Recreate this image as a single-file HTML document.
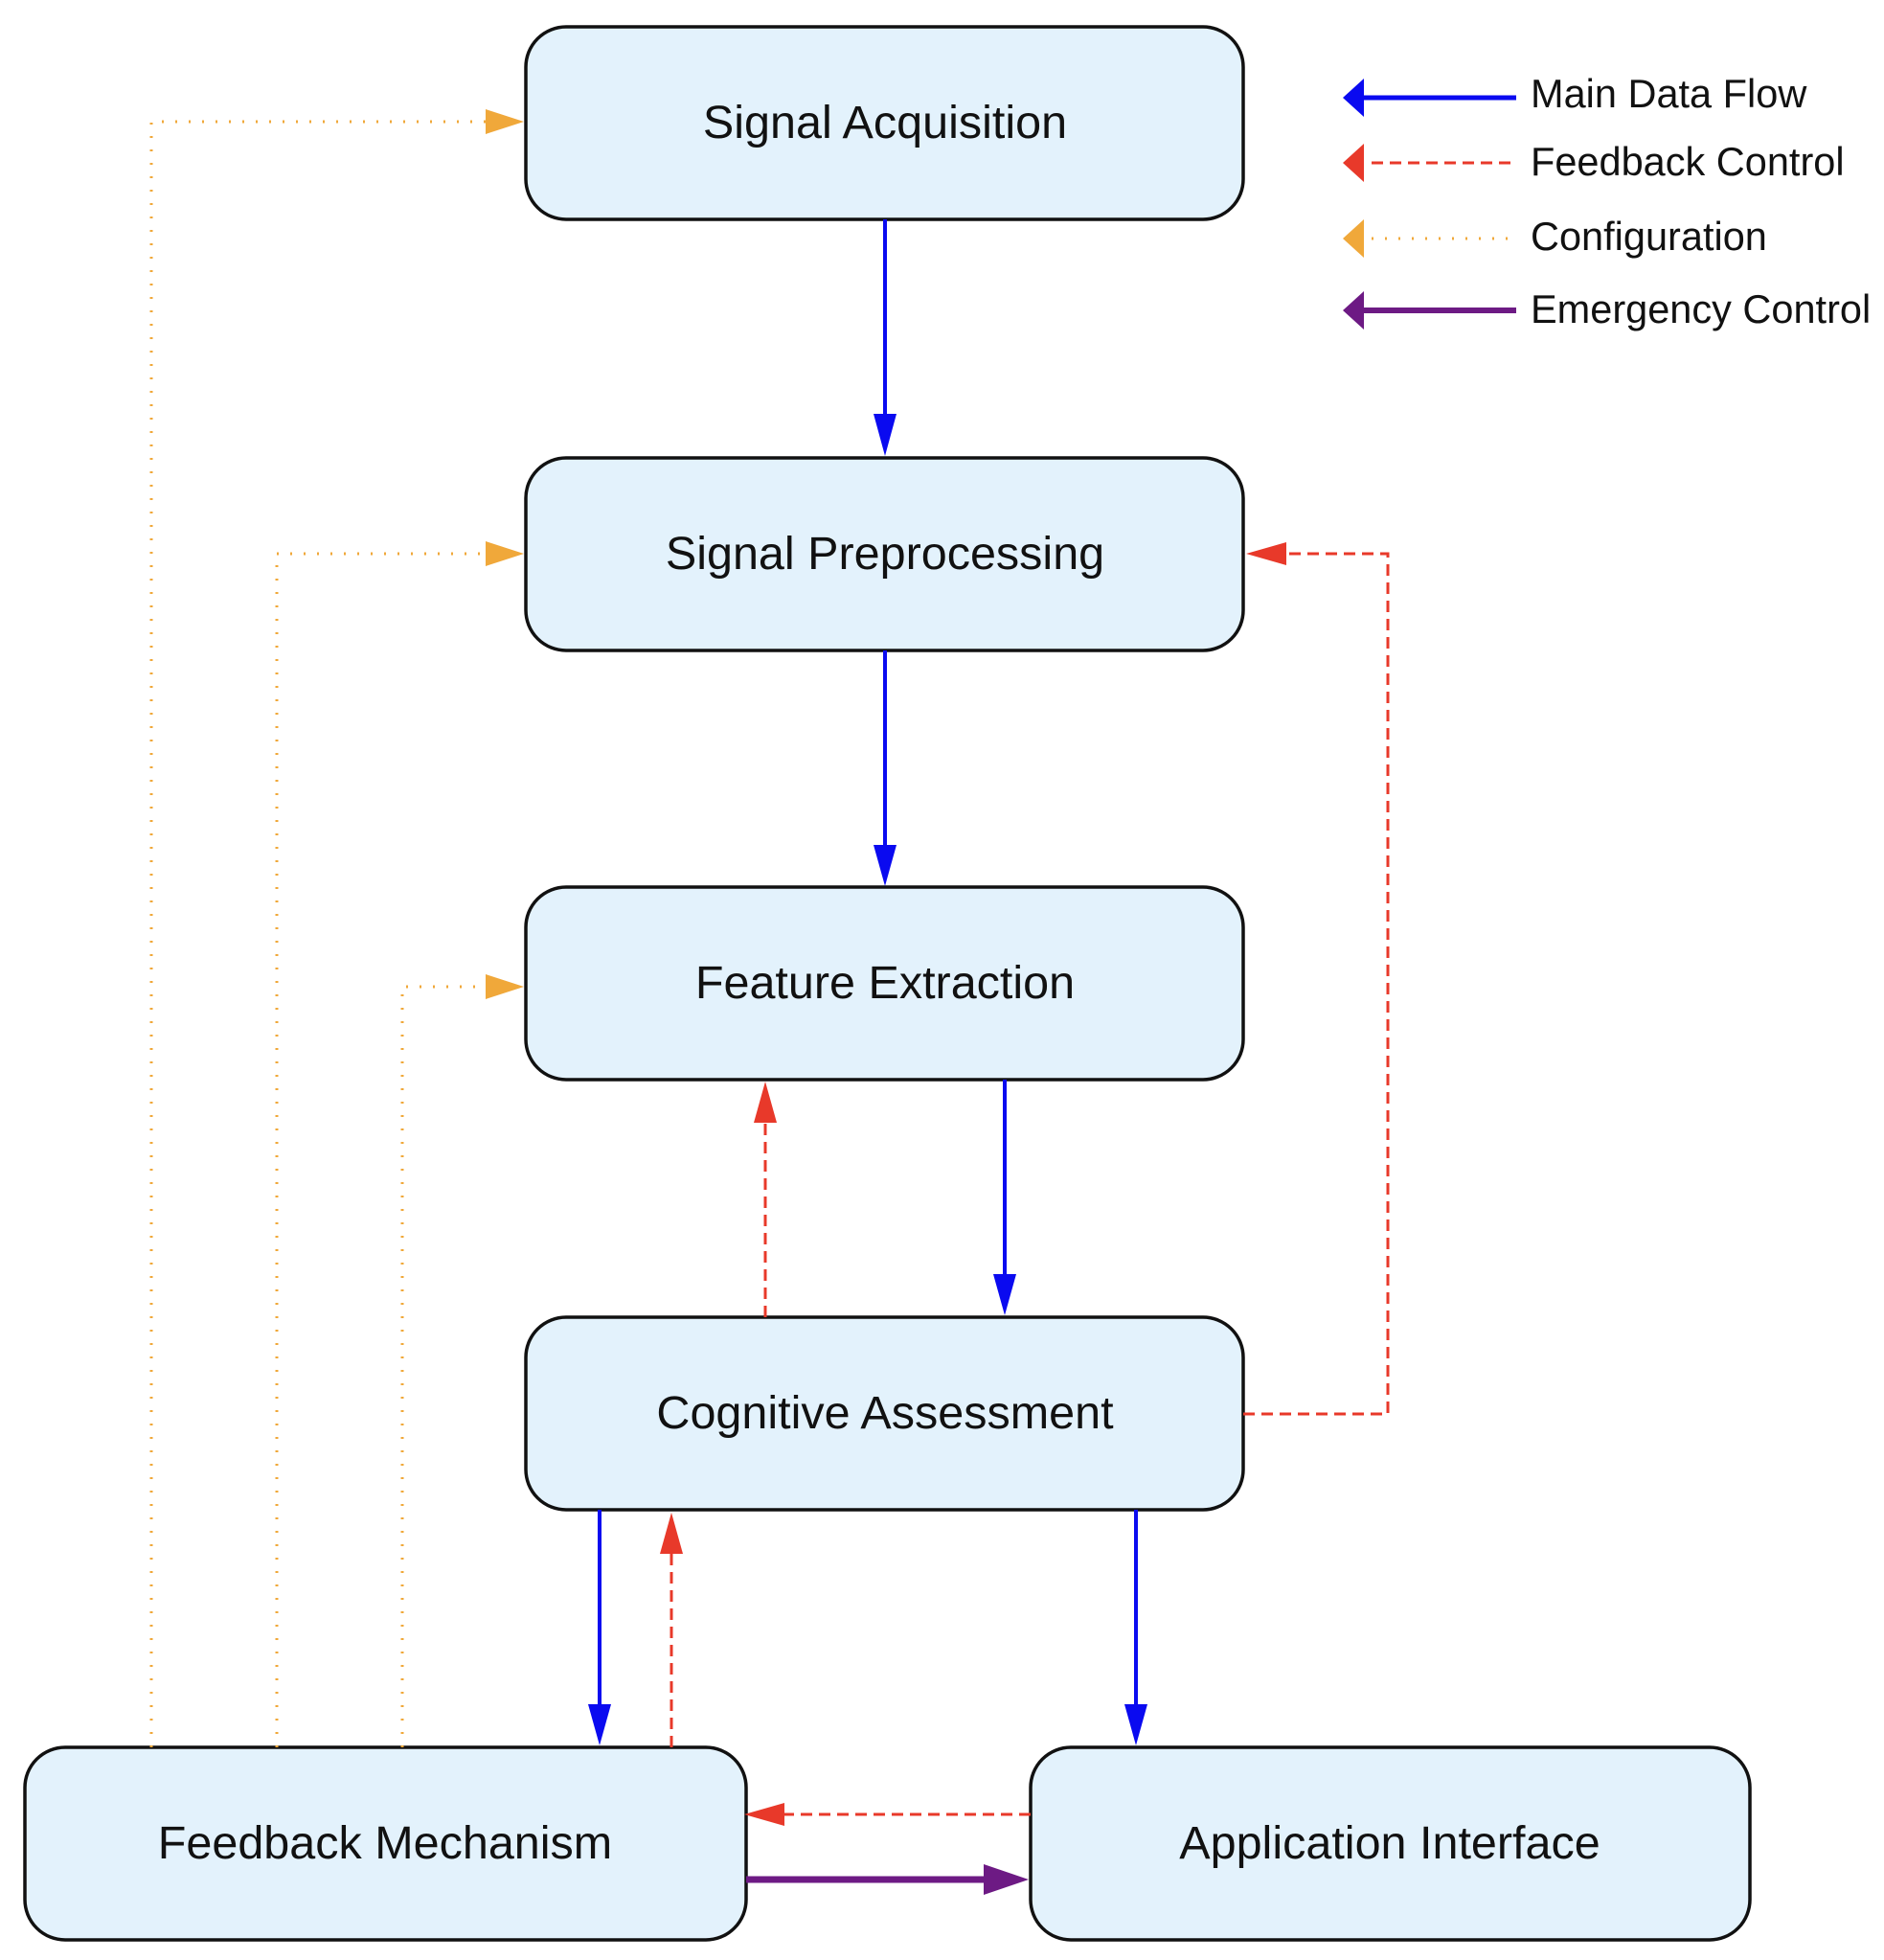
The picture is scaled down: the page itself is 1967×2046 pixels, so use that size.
<!DOCTYPE html>
<html><head><meta charset="utf-8"><style>
html,body{margin:0;padding:0;background:#fff;}
svg{display:block;}
text{font-family:"Liberation Sans",Arial,sans-serif;fill:#111;}
</style></head><body>
<svg width="1967" height="2046" viewBox="0 0 1967 2046" xmlns="http://www.w3.org/2000/svg">
<g fill="#e3f2fc" stroke="#111" stroke-width="3.5">
<rect x="549" y="28" width="749" height="201" rx="42"/>
<rect x="549" y="478" width="749" height="201" rx="42"/>
<rect x="549" y="926" width="749" height="201" rx="42"/>
<rect x="549" y="1375" width="749" height="201" rx="42"/>
<rect x="26" y="1824" width="753" height="201" rx="42"/>
<rect x="1076" y="1824" width="751" height="201" rx="42"/>
</g>
<g font-size="48.5" text-anchor="middle">
<text x="924" y="144">Signal Acquisition</text>
<text x="924" y="594">Signal Preprocessing</text>
<text x="924" y="1042">Feature Extraction</text>
<text x="924" y="1491">Cognitive Assessment</text>
<text x="402" y="1940">Feedback Mechanism</text>
<text x="1451" y="1940">Application Interface</text>
</g>
<g stroke="#0a0af0" stroke-width="4" fill="none">
<line x1="924" y1="229" x2="924" y2="440"/>
<line x1="924" y1="679" x2="924" y2="890"/>
<line x1="1049" y1="1127" x2="1049" y2="1336"/>
<line x1="626" y1="1576" x2="626" y2="1786"/>
<line x1="1186" y1="1576" x2="1186" y2="1786"/>
</g>
<g fill="#0a0af0">
<polygon points="912,432 936,432 924,476"/>
<polygon points="912,882 936,882 924,925"/>
<polygon points="1037,1330 1061,1330 1049,1373"/>
<polygon points="614,1779 638,1779 626,1822"/>
<polygon points="1174,1779 1198,1779 1186,1822"/>
</g>
<g stroke="#e8392a" stroke-width="3" fill="none" stroke-dasharray="12,7">
<line x1="799" y1="1375" x2="799" y2="1168"/>
<line x1="701" y1="1824" x2="701" y2="1618"/>
<line x1="1076" y1="1894" x2="815" y2="1894"/>
<polyline points="1298,1476 1449,1476 1449,578 1340,578"/>
<line x1="1432" y1="170" x2="1583" y2="170"/>
</g>
<g fill="#e8392a">
<polygon points="787,1172 811,1172 799,1129"/>
<polygon points="689,1622 713,1622 701,1579"/>
<polygon points="819,1882 819,1906 777,1894"/>
<polygon points="1343,566 1343,590 1301,578"/>
<polygon points="1424,150 1424,190 1402,170"/>
</g>
<g stroke="#f0a83a" stroke-width="3" fill="none" stroke-dasharray="2,12">
<polyline points="158,1824 158,127 507,127"/>
<polyline points="289,1824 289,578 507,578"/>
<polyline points="420,1824 420,1030 507,1030"/>
<line x1="1432" y1="249" x2="1583" y2="249"/>
</g>
<g fill="#f0a83a">
<polygon points="507,114 507,140 547,127"/>
<polygon points="507,565 507,591 547,578"/>
<polygon points="507,1017 507,1043 547,1030"/>
<polygon points="1424,229 1424,269 1402,249"/>
</g>
<line x1="779" y1="1962" x2="1034" y2="1962" stroke="#6d1a84" stroke-width="7"/>
<polygon points="1027,1946 1027,1978 1074,1962" fill="#6d1a84"/>
<line x1="1422" y1="102" x2="1583" y2="102" stroke="#0a0af0" stroke-width="5"/>
<polygon points="1424,82 1424,122 1402,102" fill="#0a0af0"/>
<line x1="1422" y1="324" x2="1583" y2="324" stroke="#6d1a84" stroke-width="6"/>
<polygon points="1424,304 1424,344 1402,324" fill="#6d1a84"/>
<g font-size="41.5">
<text x="1598" y="112">Main Data Flow</text>
<text x="1598" y="183">Feedback Control</text>
<text x="1598" y="261">Configuration</text>
<text x="1598" y="337">Emergency Control</text>
</g>
</svg>
</body></html>
